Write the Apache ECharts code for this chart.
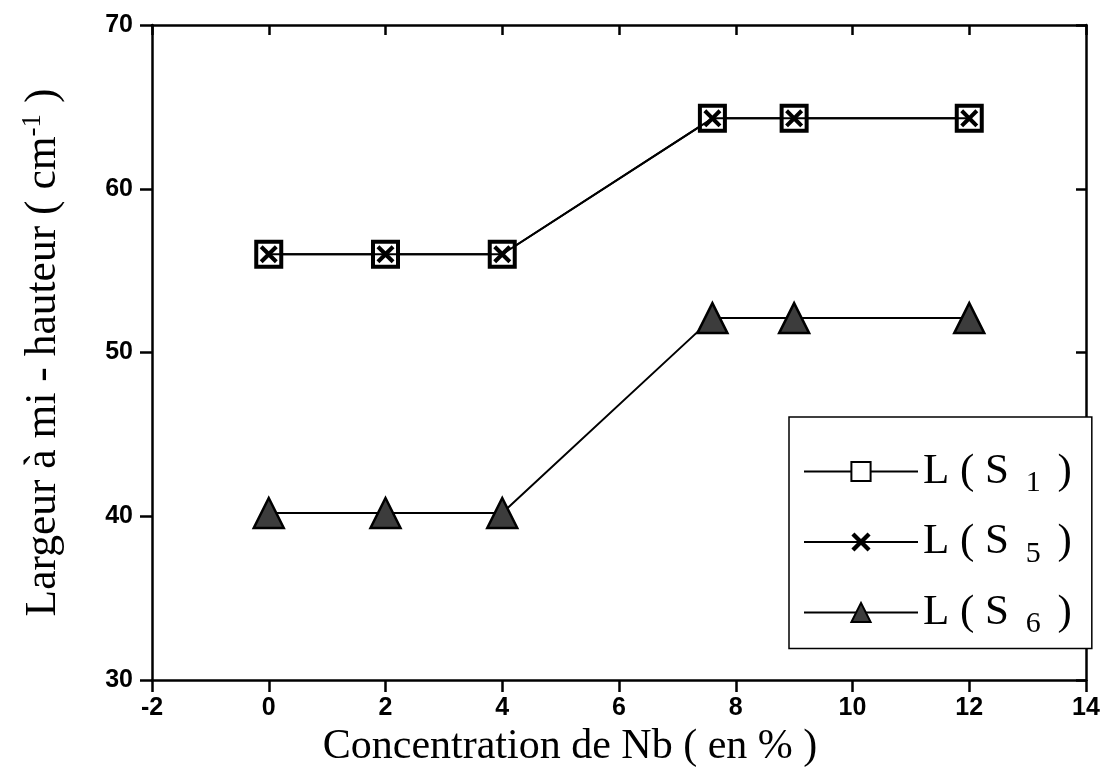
<!DOCTYPE html>
<html><head><meta charset="utf-8">
<script src="https://cdn.jsdelivr.net/npm/echarts@6/dist/echarts.min.js"></script>
<style>html,body{margin:0;padding:0;background:#fff}#c{width:1102px;height:772px}</style>
</head><body><div id="c"></div>
<script>
const concentration = [0, 2, 4, 7.6, 9, 12];
const widthS1 = [56, 56, 56, 64.3, 64.3, 64.3];
const widthS5 = [56, 56, 56, 64.3, 64.3, 64.3];
const widthS6 = [40.2, 40.2, 40.2, 52.1, 52.1, 52.1];
const seriesNames = ['L(S1)', 'L(S5)', 'L(S6)'];
const subs = {'L(S1)': '1', 'L(S5)': '5', 'L(S6)': '6'};

const pair = (xs, ys) => xs.map((x, i) => [x, ys[i]]);
const crossPath = 'path://M0,1.6 L1.6,0 L5,3.4 L8.4,0 L10,1.6 L6.6,5 L10,8.4 L8.4,10 L5,6.6 L1.6,10 L0,8.4 L3.4,5 Z';
const tickFont = {fontFamily: 'Arial, "Liberation Sans", sans-serif', fontWeight: 'bold', fontSize: 25, color: '#000'};
const axLine = {show: true, onZero: false, lineStyle: {color: '#000', width: 2.5}};
const tickOut = {show: true, inside: false, length: 12, lineStyle: {width: 2.5, color: '#000'}};
const tickIn = {show: true, inside: true, length: 10, lineStyle: {width: 2.5, color: '#000'}};

const chart = echarts.init(document.getElementById('c'));
chart.setOption({
  animation: false,
  backgroundColor: '#fff',
  grid: {left: 152, right: 16, top: 25, bottom: 92, containLabel: false, outerBoundsMode: 'none'},
  xAxis: [
    {type: 'value', min: -2, max: 14, interval: 2, position: 'bottom',
     axisLine: axLine, axisTick: tickOut,
     axisLabel: Object.assign({margin: 16}, tickFont), splitLine: {show: false},
     name: 'Concentration de Nb ( en % )', nameLocation: 'middle', nameGap: 40,
     nameTextStyle: {fontFamily: 'Liberation Serif', fontSize: 42, color: '#000', padding: [0, 98, 0, 0]}},
    {type: 'value', min: -2, max: 14, interval: 2, position: 'top',
     axisLine: axLine, axisTick: tickIn, axisLabel: {show: false}, splitLine: {show: false}}
  ],
  yAxis: [
    {type: 'value', min: 30, max: 70, interval: 10, position: 'left',
     axisLine: axLine, axisTick: tickOut,
     axisLabel: Object.assign({margin: 19}, tickFont), splitLine: {show: false},
     name: '{a|Largeur à mi - hauteur ( cm}{sup|-1}{a| )}', nameLocation: 'middle', nameGap: 84, nameRotate: 90,
     nameTextStyle: {color: '#000', rich: {
       a: {fontFamily: 'Liberation Serif', fontSize: 43.5, color: '#000'},
       sup: {fontFamily: 'Liberation Serif', fontSize: 27, color: '#000', padding: [0, 0, 22, 0]}}}},
    {type: 'value', min: 30, max: 70, interval: 10, position: 'right',
     axisLine: axLine, axisTick: tickIn, axisLabel: {show: false}, splitLine: {show: false}}
  ],
  legend: {
    orient: 'vertical', left: 789, top: 417,
    padding: [33, 20, 9, 14], itemGap: 22, itemWidth: 114, itemHeight: 24,
    borderColor: '#000', borderWidth: 1.5, backgroundColor: '#fff',
    data: seriesNames,
    formatter: n => '{a|L ( S }{sub|' + subs[n] + '}{a| )}',
    textStyle: {color: '#000', rich: {
      a: {fontFamily: 'Liberation Serif', fontSize: 43, color: '#000'},
      sub: {fontFamily: 'Liberation Serif', fontSize: 30, color: '#000', padding: [24, 6, 0, 6]}}}
  },
  series: [
    {name: 'L(S1)', type: 'line', data: pair(concentration, widthS1), symbol: 'rect', symbolSize: 25,
     lineStyle: {color: '#000', width: 2}, itemStyle: {color: '#fff', borderColor: '#000', borderWidth: 4}, z: 3},
    {name: 'L(S5)', type: 'line', data: pair(concentration, widthS5), symbol: crossPath, symbolSize: 18,
     lineStyle: {color: '#000', width: 2}, itemStyle: {color: '#000', borderColor: '#000', borderWidth: 0}, z: 4},
    {name: 'L(S6)', type: 'line', data: pair(concentration, widthS6), symbol: 'triangle', symbolSize: 30,
     lineStyle: {color: '#000', width: 2}, itemStyle: {color: '#3c3c3c', borderColor: '#000', borderWidth: 2.5}, z: 3}
  ]
});
</script></body></html>
